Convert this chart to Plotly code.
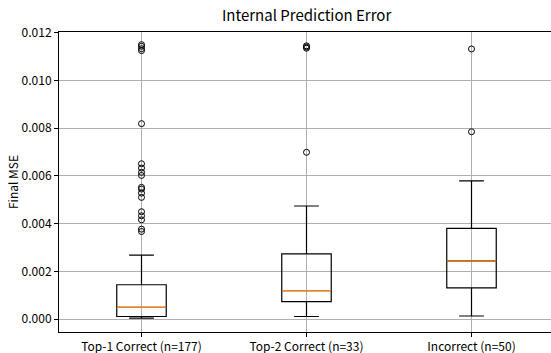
import plotly.graph_objects as go

categories = ["Top-1 Correct (n=177)", "Top-2 Correct (n=33)", "Incorrect (n=50)"]
positions = [1, 2, 3]
q1 = [0.00011, 0.00073, 0.00131]
median = [0.00049, 0.00119, 0.00244]
q3 = [0.00144, 0.00273, 0.00380]
lower_whisker = [0.00004, 0.00011, 0.00013]
upper_whisker = [0.00268, 0.00474, 0.00579]
outliers_top1 = [0.00367, 0.00377, 0.00416, 0.00433, 0.00450, 0.00510, 0.00528,
                 0.00545, 0.00552, 0.00602, 0.00615, 0.00633, 0.00651, 0.00819,
                 0.01125, 0.01133, 0.01143, 0.01150]
outliers_top2 = [0.00699, 0.01135, 0.01140, 0.01145]
outliers_incorrect = [0.00785, 0.01132]
yticks = [0.000, 0.002, 0.004, 0.006, 0.008, 0.010, 0.012]

FONT = "Noto Sans CJK JP"
BOX_W = 0.3

fig = go.Figure()
for i, p in enumerate(positions):
    fig.add_trace(go.Box(
        x=[p], q1=[q1[i]], median=[median[i]], q3=[q3[i]],
        lowerfence=[lower_whisker[i]], upperfence=[upper_whisker[i]],
        width=BOX_W, whiskerwidth=0.5, fillcolor="rgba(0,0,0,0)",
        line=dict(color="black", width=1.2), showlegend=False, hoverinfo="skip"))

# median lines in orange
mx, my = [], []
for i, p in enumerate(positions):
    mx += [p - BOX_W / 2, p + BOX_W / 2, None]
    my += [median[i], median[i], None]
fig.add_trace(go.Scatter(x=mx, y=my, mode="lines", line=dict(color="#ff7f0e", width=1.2),
                         showlegend=False, hoverinfo="skip"))

for p, outs in zip(positions, [outliers_top1, outliers_top2, outliers_incorrect]):
    fig.add_trace(go.Scatter(
        x=[p] * len(outs), y=outs, mode="markers",
        marker=dict(symbol="circle-open", size=6, color="black", line=dict(width=1)),
        showlegend=False, hoverinfo="skip"))

fig.update_layout(
    width=551, height=353,
    margin=dict(l=59, r=0, t=32, b=21),
    paper_bgcolor="white", plot_bgcolor="white",
    font=dict(family=FONT, color="black", size=12),
    title=dict(text="Internal Prediction Error", x=306.6 / 551, xref="container", xanchor="center",
               y=1 - 16 / 353, yref="container", yanchor="middle",
               font=dict(family=FONT, size=15, color="black")),
    xaxis=dict(range=[0.5, 0.5 + (551 - 59) / 165], tickvals=positions, ticktext=categories,
               showgrid=True, gridcolor="#b0b0b0", gridwidth=1, zeroline=False,
               showline=True, linecolor="black", linewidth=1, mirror=True,
               ticks="outside", ticklen=4, tickcolor="black",
               tickfont=dict(family=FONT, size=12)),
    yaxis=dict(range=[-0.00054, 0.01203], tickvals=yticks, tickformat=".3f",
               showgrid=True, gridcolor="#b0b0b0", gridwidth=1, zeroline=False,
               showline=True, linecolor="black", linewidth=1,
               ticks="outside", ticklen=4, tickcolor="black",
               tickfont=dict(family=FONT, size=12),
               title=dict(text="Final MSE", font=dict(family=FONT, size=12), standoff=0)),
)

fig.write_html("out.html", config={"displayModeBar": False},
               post_script="document.body.style.margin='0';")
